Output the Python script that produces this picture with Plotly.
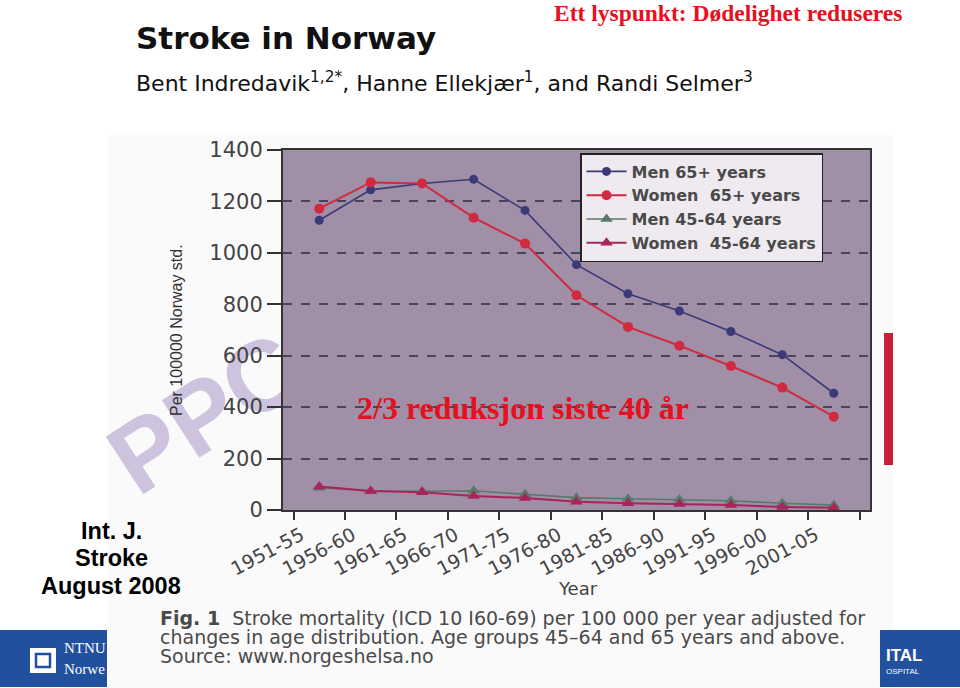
import plotly.graph_objects as go

# ---------------- data ----------------
periods = ["1951-55", "1956-60", "1961-65", "1966-70", "1971-75", "1976-80",
           "1981-85", "1986-90", "1991-95", "1996-00", "2001-05"]
men_65 = [1127, 1245, 1270, 1286, 1165, 954, 841, 774, 694, 604, 454]
women_65 = [1172, 1274, 1270, 1137, 1036, 835, 712, 639, 560, 476, 363]
men_45_64 = [87, 74, 73, 75, 61, 48, 44, 41, 36, 26, 19]
women_45_64 = [91, 74, 69, 54, 47, 32, 26, 23, 19, 12, 9]
y_ticks = [0, 200, 400, 600, 800, 1000, 1200, 1400]

series_names = ["Men 65+ years", "Women\u00a0 65+ years", "Men 45-64 years", "Women\u00a0 45-64 years"]

# ---------------- geometry helpers ----------------
W, H = 960, 688
L, R, T, B = 283, 90, 150, 178
PW, PH = W - L - R, H - T - B


def px(x, y):
    return (x - L) / PW, (H - B - y) / PH


fig = go.Figure()

styles = [
    dict(color="#3b3978", symbol="circle", size=9, width=1.6),
    dict(color="#cf2a40", symbol="circle", size=10, width=2),
    dict(color="#587a68", symbol="triangle-up", size=11, width=1.6),
    dict(color="#a8245a", symbol="triangle-up", size=11, width=2),
]
for name, vals, st in zip(series_names, [men_65, women_65, men_45_64, women_45_64], styles):
    fig.add_trace(go.Scatter(
        x=periods, y=vals, name=name, mode="lines+markers",
        line=dict(color=st["color"], width=st["width"]),
        marker=dict(color=st["color"], symbol=st["symbol"], size=st["size"]),
    ))

shapes = []
# scanned page area (very light)
x0, y0 = px(108, 135)
x1, y1 = px(893, 688)
shapes.append(dict(type="rect", xref="paper", yref="paper", x0=x0, y0=y1, x1=x1, y1=y0,
                   fillcolor="#fbfafb", line=dict(width=0), layer="below"))
# watermark
wx0, wy0 = px(90, 310)
wx1, wy1 = px(310, 500)
shapes.append(dict(type="rect", xref="paper", yref="paper", x0=wx0, y0=wy1, x1=wx1, y1=wy0,
                   fillcolor="rgba(0,0,0,0)", line=dict(width=0), layer="below",
                   label=dict(text="<b>PPC</b>", textangle=-33, textposition="middle center",
                              font=dict(family="Liberation Sans", size=100, color="#cdc3de"))))
# plot background (covers the watermark)
shapes.append(dict(type="rect", xref="paper", yref="paper", x0=0, y0=0, x1=1, y1=1,
                   fillcolor="#a08fa7", line=dict(width=0), layer="below"))
# red vertical bar
bx0, by0 = px(884, 333)
bx1, by1 = px(893, 465)
shapes.append(dict(type="rect", xref="paper", yref="paper", x0=bx0, y0=by1, x1=bx1, y1=by0,
                   fillcolor="#c8203a", line=dict(width=0), layer="above"))
# blue banners
nx0, ny0 = px(0, 630)
nx1, ny1 = px(107, 687)
shapes.append(dict(type="rect", xref="paper", yref="paper", x0=nx0, y0=ny1, x1=nx1, y1=ny0,
                   fillcolor="#21509f", line=dict(width=0), layer="above"))
rx0, ry0 = px(880, 630)
rx1, ry1 = px(960, 687)
shapes.append(dict(type="rect", xref="paper", yref="paper", x0=rx0, y0=ry1, x1=rx1, y1=ry0,
                   fillcolor="#21509f", line=dict(width=0), layer="above"))
# NTNU icon
ix0, iy0 = px(30, 648)
ix1, iy1 = px(56, 673)
shapes.append(dict(type="rect", xref="paper", yref="paper", x0=ix0, y0=iy1, x1=ix1, y1=iy0,
                   fillcolor="white", line=dict(width=0), layer="above"))
jx0, jy0 = px(36, 654)
jx1, jy1 = px(50, 667)
shapes.append(dict(type="rect", xref="paper", yref="paper", x0=jx0, y0=jy1, x1=jx1, y1=jy0,
                   fillcolor="white", line=dict(color="#21509f", width=2.5), layer="above"))

annotations = []


def add_text(text, x, y, size, color, family, xanchor="center", yanchor="middle", angle=0):
    ax, ay = px(x, y)
    annotations.append(dict(text=text, x=ax, y=ay, xref="paper", yref="paper",
                            xanchor=xanchor, yanchor=yanchor, showarrow=False, textangle=angle,
                            font=dict(size=size, color=color, family=family)))


add_text("<b>Ett lyspunkt: Dødelighet reduseres</b>", 904, 13, 23.5, "#e8101e",
         "Liberation Serif", xanchor="right")
add_text("<b>Stroke in Norway</b>", 134, 38, 31, "#111111", "DejaVu Sans", xanchor="left")
add_text("Bent Indredavik<sup>1,2*</sup>, Hanne Ellekjær<sup>1</sup>, and Randi Selmer<sup>3</sup>",
         134, 82, 22, "#111111", "DejaVu Sans", xanchor="left")
add_text("<b>2/3 reduksjon siste 40 år</b>", 523, 408, 32, "#e8101e", "Liberation Serif")
add_text("<b>Int. J.</b>", 111, 531, 23.5, "#000000", "Liberation Sans")
add_text("<b>Stroke</b>", 111, 558, 23.5, "#000000", "Liberation Sans")
add_text("<b>August 2008</b>", 111, 586, 23.5, "#000000", "Liberation Sans")
add_text("Per 100000 Norway std.", 176, 330, 16, "#333333", "Liberation Sans", angle=-90)
add_text("Year", 578, 588, 18, "#444444", "DejaVu Sans")
add_text("<b>Fig. 1</b>  Stroke mortality (ICD 10 I60-69) per 100 000 per year adjusted for",
         158, 618, 19, "#4a4a4a", "DejaVu Sans", xanchor="left")
add_text("changes in age distribution. Age groups 45–64 and 65 years and above.",
         158, 637, 19, "#4a4a4a", "DejaVu Sans", xanchor="left")
add_text("Source: www.norgeshelsa.no", 158, 656, 19, "#4a4a4a", "DejaVu Sans", xanchor="left")
add_text("NTNU", 62, 648, 15, "white", "Liberation Serif", xanchor="left")
add_text("Norwe", 62, 669, 15, "white", "Liberation Serif", xanchor="left")
add_text("<b>ITAL</b>", 884, 655, 17, "white", "Liberation Sans", xanchor="left")
add_text("OSPITAL", 884, 671, 8, "white", "Liberation Sans", xanchor="left")

fig.update_layout(
    width=W, height=H,
    margin=dict(l=L, r=R, t=T, b=B, autoexpand=False),
    paper_bgcolor="white",
    plot_bgcolor="#a08fa7",
    shapes=shapes,
    annotations=annotations,
    showlegend=True,
    legend=dict(x=px(580, 0)[0], y=px(0, 153)[1], xanchor="left", yanchor="top",
                bgcolor="#eeeaf0", bordercolor="#222222", borderwidth=1.5,
                font=dict(family="DejaVu Sans", size=16, color="#4a4a4a", weight="bold"),
                itemwidth=40, tracegroupgap=0,
                entrywidth=228, entrywidthmode="pixels"),
    xaxis=dict(type="category", tickangle=-28, tickson="boundaries",
               ticks="outside", ticklen=8, tickwidth=2, tickcolor="#333333",
               ticklabelshift=-18, ticklabelstandoff=5,
               tickfont=dict(family="DejaVu Sans", size=19, color="#444444"),
               showgrid=False, showline=True, linecolor="#333333", linewidth=2, mirror=True,
               zeroline=False),
    yaxis=dict(range=[0, 1400], tickvals=y_ticks, ticktext=[str(v) for v in y_ticks],
               ticks="outside", ticklen=14, tickwidth=2, tickcolor="#333333",
               tickfont=dict(family="DejaVu Sans", size=21, color="#444444"),
               showgrid=True, gridcolor="#4a4458", gridwidth=1.5, griddash="dash",
               showline=True, linecolor="#333333", linewidth=2, mirror=True, zeroline=False),
)

fig.write_html("out.html", config={"displayModeBar": False},
               post_script="document.body.style.margin='0px';")
